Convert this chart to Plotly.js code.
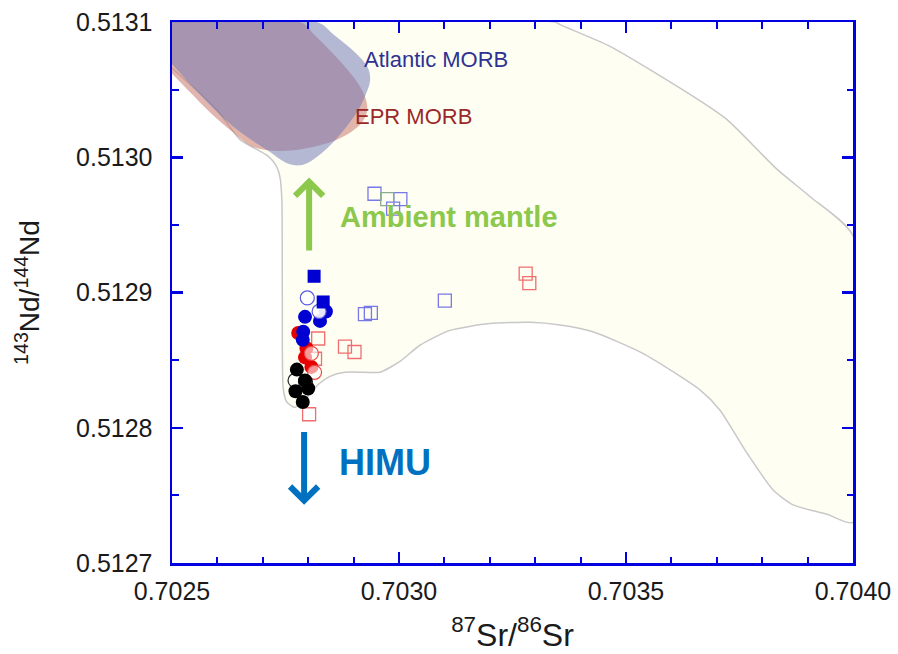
<!DOCTYPE html>
<html>
<head>
<meta charset="utf-8">
<script src="https://cdn.plot.ly/plotly-3.0.1.min.js"></script>
<style>html,body{margin:0;padding:0;background:#fff;}#chart{width:898px;height:654px;}</style>
</head>
<body>
<div id="chart"></div>
<script>
// ---------- data (87Sr/86Sr, 143Nd/144Nd) ----------
// OIB field outline
const fieldSr = [0.702500,0.703344,0.703355,0.703465,0.703648,0.703722,0.703833,0.703905,0.704000,0.704000,0.703943,0.703868,0.703824,0.703767,0.703707,0.703663,0.703537,0.703427,0.703355,0.703289,0.703200,0.703112,0.703046,0.703002,0.702958,0.702925,0.702881,0.702848,0.702822,0.702793,0.702771,0.702753,0.702745,0.702743,0.702742,0.702738,0.702729,0.702711,0.702650,0.702599,0.702500];
const fieldNd = [0.513100,0.513100,0.513098,0.513082,0.513045,0.513028,0.512991,0.512971,0.512942,0.512730,0.512736,0.512743,0.512754,0.512781,0.512813,0.512828,0.512855,0.512871,0.512876,0.512878,0.512877,0.512872,0.512861,0.512849,0.512841,0.512841,0.512841,0.512838,0.512832,0.512821,0.512815,0.512819,0.512829,0.512894,0.512968,0.512985,0.512994,0.513001,0.513013,0.513035,0.513066];
// Atlantic MORB field
const atlSr = [0.702500,0.702819,0.702855,0.702888,0.702919,0.702934,0.702936,0.702925,0.702907,0.702883,0.702855,0.702826,0.702800,0.702778,0.702751,0.702711,0.702661,0.702610,0.702557,0.702500];
const atlNd = [0.513100,0.513100,0.513091,0.513082,0.513072,0.513064,0.513056,0.513045,0.513033,0.513022,0.513011,0.513002,0.512996,0.512994,0.512996,0.513005,0.513016,0.513030,0.513048,0.513069];
// EPR MORB field
const eprSr = [0.702500,0.702782,0.702815,0.702848,0.702881,0.702907,0.702925,0.702930,0.702919,0.702896,0.702863,0.702815,0.702760,0.702716,0.702676,0.702632,0.702584,0.702540,0.702500];
const eprNd = [0.513100,0.513100,0.513090,0.513079,0.513067,0.513056,0.513045,0.513035,0.513026,0.513019,0.513013,0.513008,0.513005,0.513005,0.513008,0.513019,0.513033,0.513048,0.513062];

// samples
const blueSqOpenSr = [0.702946,0.703003,0.702987,0.703101,0.702925,0.702938];
const blueSqOpenNd = [0.512973,0.512969,0.512962,0.512894,0.512884,0.512885];
const greySqOpenSr = [0.702974];
const greySqOpenNd = [0.512969];
const redSqOpenSr = [0.702822,0.702815,0.702802,0.702881,0.702902,0.703279,0.703287];
const redSqOpenNd = [0.512866,0.512851,0.512810,0.512860,0.512856,0.512914,0.512907];
const redFillSr = [0.702778,0.702796,0.702793,0.702807];
const redFillNd = [0.512870,0.512859,0.512852,0.512845];
const redOpenSr = [0.702807,0.702814];
const redOpenNd = [0.512855,0.512841];
const blueFillSr = [0.702839,0.702793,0.702826,0.702789,0.702788];
const blueFillNd = [0.512886,0.512882,0.512879,0.512871,0.512865];
const blueOpenSr = [0.702798,0.702824];
const blueOpenNd = [0.512896,0.512886];
const blueSqSr = [0.702813,0.702833];
const blueSqNd = [0.512912,0.512893];
const blackOpenSr = [0.702771,0.702794];
const blackOpenNd = [0.512835,0.512834];
const blackFillSr = [0.702775,0.702793,0.702800,0.702772,0.702788];
const blackFillNd = [0.512843,0.512835,0.512829,0.512827,0.512819];

// labels and arrows
const labelText = ['Atlantic MORB','EPR MORB'];
const labelSr = [0.703081,0.703033];
const labelNd = [0.513072,0.513030];
const arrowSr = [0.702802,0.702791];
const arrowTailNd = [0.512930,0.512798];
const arrowHeadNd = [0.512985,0.512743];
const endText = ['Ambient mantle','HIMU'];
const endSr = [0.702866,0.702864];
const endNd = [0.512956,0.512774];

const FONT = 'Liberation Sans, Arial, Helvetica, sans-serif';
const AX = 'rgb(0,0,225)';
const MS = 14;

function pts(x, y, symbol, color, size, lineColor, lineWidth) {
  return {type:'scatter', mode:'markers', x:x, y:y, hoverinfo:'skip', showlegend:false,
    marker:{symbol:symbol, size:size, color:color, line:{color:lineColor, width:lineWidth}}};
}

const traces = [
  {type:'scatter', mode:'lines', x:fieldSr, y:fieldNd, fill:'toself', fillcolor:'rgb(254,254,243)',
   line:{color:'rgb(200,200,200)', width:1.5, shape:'spline', smoothing:0.6}, hoverinfo:'skip', showlegend:false},
  {type:'scatter', mode:'lines', x:eprSr, y:eprNd, fill:'toself', fillcolor:'rgba(200,120,110,0.55)',
   line:{width:0, shape:'spline', smoothing:1}, hoverinfo:'skip', showlegend:false},
  {type:'scatter', mode:'lines', x:atlSr, y:atlNd, fill:'toself', fillcolor:'rgba(112,118,182,0.52)',
   line:{width:0, shape:'spline', smoothing:1}, hoverinfo:'skip', showlegend:false},
  pts(blueSqOpenSr, blueSqOpenNd, 'square-open', 'rgb(120,120,230)', MS-1, 'rgb(120,120,230)', 1.3),
  pts(greySqOpenSr, greySqOpenNd, 'square-open', 'rgb(140,172,145)', MS-1, 'rgb(140,172,145)', 1.3),
  pts(redSqOpenSr, redSqOpenNd, 'square-open', 'rgb(240,110,110)', MS-1, 'rgb(240,110,110)', 1.3),
  pts(redFillSr, redFillNd, 'circle', 'rgb(230,0,0)', MS, 'rgb(230,0,0)', 0),
  pts(redOpenSr, redOpenNd, 'circle', 'rgba(255,255,255,0.6)', MS, 'rgb(235,70,70)', 1.2),
  pts(blueFillSr, blueFillNd, 'circle', 'rgb(0,0,210)', MS, 'rgb(0,0,210)', 0),
  pts(blueOpenSr, blueOpenNd, 'circle', 'rgba(255,255,255,0.9)', MS, 'rgb(90,90,225)', 1.2),
  pts(blueSqSr, blueSqNd, 'square', 'rgb(0,0,210)', MS-1, 'rgb(0,0,210)', 0),
  pts(blackOpenSr, blackOpenNd, 'circle', 'rgba(255,255,255,0.6)', MS, 'rgb(40,40,40)', 1.2),
  pts(blackFillSr, blackFillNd, 'circle', 'rgb(0,0,0)', MS, 'rgb(0,0,0)', 0)
];

const labelColors = ['rgb(46,49,146)','rgb(155,40,40)'];
const endColors = ['rgb(140,200,75)','rgb(0,112,192)'];
const endSizes = [29, 36];
const annotations = [];
labelText.forEach((t,i)=>annotations.push({x:labelSr[i], y:labelNd[i], xref:'x', yref:'y', text:t, showarrow:false,
  font:{family:FONT, size:22, color:labelColors[i]}, xanchor:'center', yanchor:'middle'}));
arrowSr.forEach((s,i)=>annotations.push({x:s, y:arrowHeadNd[i], ax:s, ay:arrowTailNd[i], xref:'x', yref:'y', axref:'x', ayref:'y',
  text:'', showarrow:true, arrowhead:4, arrowsize:0.9, arrowwidth:6, arrowcolor:endColors[i], standoff:0}));
endText.forEach((t,i)=>annotations.push({x:endSr[i], y:endNd[i], xref:'x', yref:'y', text:'<b>'+t+'</b>', showarrow:false,
  font:{family:FONT, size:endSizes[i], color:endColors[i]}, xanchor:'left', yanchor:'middle'}));

const common = {showgrid:false, zeroline:false, showline:true, linecolor:AX, linewidth:2.5, mirror:'ticks',
  ticks:'inside', ticklen:11, tickwidth:2.5, tickcolor:AX, tickfont:{family:FONT, size:25, color:'#1a1a1a'}};

const layout = {
  width:898, height:654, margin:{l:172, r:45, t:22, b:91},
  paper_bgcolor:'#fff', plot_bgcolor:'#fff', showlegend:false,
  xaxis:Object.assign({}, common, {range:[0.7025,0.7040], dtick:0.0005, tick0:0.7025, tickformat:'.4f',
    ticklabelstandoff:4,
    minor:{dtick:0.0001, ticks:'inside', ticklen:6.5, tickwidth:2, tickcolor:AX, showgrid:false},
    title:{text:'<sup>87</sup>Sr/<sup>86</sup>Sr', font:{family:FONT, size:32, color:'#1a1a1a'}, standoff:20}}),
  yaxis:Object.assign({}, common, {range:[0.5127,0.5131], dtick:0.0001, tick0:0.5127, tickformat:'.4f',
    ticklabelstandoff:12,
    minor:{dtick:0.00005, ticks:'inside', ticklen:6.5, tickwidth:2, tickcolor:AX, showgrid:false},
    title:{text:'<sup>143</sup>Nd/<sup>144</sup>Nd', font:{family:FONT, size:28, color:'#1a1a1a'}, standoff:28}}),
  annotations:annotations
};

Plotly.newPlot('chart', traces, layout, {staticPlot:true, displayModeBar:false});
</script>
</body>
</html>
